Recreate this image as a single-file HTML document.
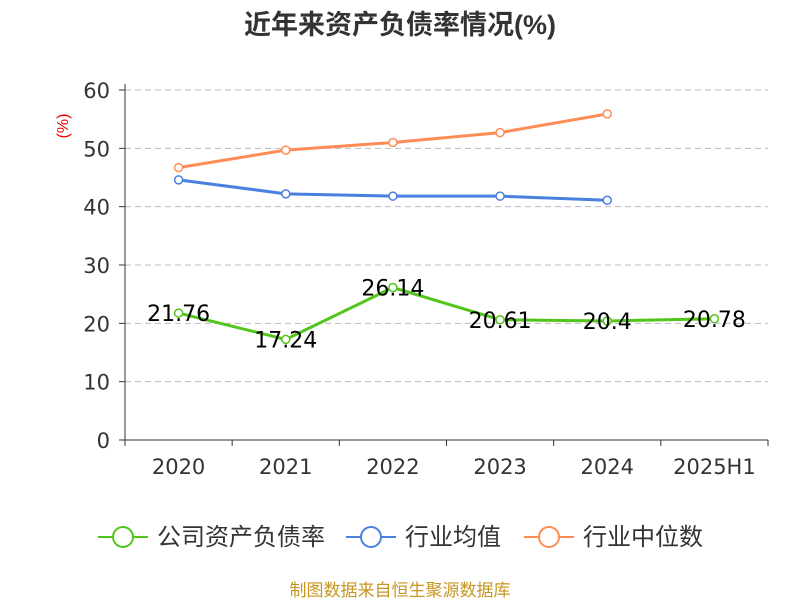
<!DOCTYPE html>
<html><head><meta charset="utf-8"><style>
body{margin:0;background:#fff;width:800px;height:600px;overflow:hidden;font-family:"Liberation Sans","Noto Sans CJK SC",sans-serif}
</style></head><body>
<svg id="c" width="800" height="600" xmlns="http://www.w3.org/2000/svg" font-family="Liberation Sans, Noto Sans CJK SC, sans-serif">
<text x="400" y="34" text-anchor="middle" font-size="27" font-weight="bold" fill="#333">近年来资产负债率情况(%)</text>
<text x="68" y="126" text-anchor="middle" font-size="16" fill="#e00" transform="rotate(-90 68 126)">(%)</text>
<g id="grid"></g><g id="axes"></g><g id="series"></g>
<g>
<g><line x1="98" y1="537" x2="148" y2="537" stroke="#52c41a" stroke-width="2"/><circle cx="123" cy="537" r="10" fill="#fff" stroke="#52c41a" stroke-width="2"/><text x="157" y="545" font-size="24" fill="#333">公司资产负债率</text></g>
<g><line x1="346" y1="537" x2="396" y2="537" stroke="#4a80e0" stroke-width="2"/><circle cx="371" cy="537" r="10" fill="#fff" stroke="#4a80e0" stroke-width="2"/><text x="405" y="545" font-size="24" fill="#333">行业均值</text></g>
<g><line x1="524" y1="537" x2="574" y2="537" stroke="#ff8c55" stroke-width="2"/><circle cx="549" cy="537" r="10" fill="#fff" stroke="#ff8c55" stroke-width="2"/><text x="583" y="545" font-size="24" fill="#333">行业中位数</text></g>
</g>
<text x="400" y="596" text-anchor="middle" font-size="17" fill="#c8961e">制图数据来自恒生聚源数据库</text>
</svg>
<script>
const categories=["2020","2021","2022","2023","2024","2025H1"];
const company=[21.76,17.24,26.14,20.61,20.4,20.78];
const companyLabels=["21.76","17.24","26.14","20.61","20.4","20.78"];
const industryAvg=[44.6,42.2,41.8,41.8,41.1];
const industryMedian=[46.7,49.7,51.0,52.7,55.9];
const yTicks=[0,10,20,30,40,50,60];
const NS="http://www.w3.org/2000/svg";
const NUMFONT="DejaVu Sans, sans-serif";
const x0=125,x1=768,yb=440,yt=90,ymax=60;
const bw=(x1-x0)/categories.length;
const X=i=>x0+bw*(i+0.5);
const Y=v=>yb-(v/ymax)*(yb-yt);
function mk(p,t,a){const e=document.createElementNS(NS,t);for(const k in a)e.setAttribute(k,a[k]);p.appendChild(e);return e;}
const grid=document.getElementById('grid'),axes=document.getElementById('axes'),ser=document.getElementById('series');
yTicks.forEach(v=>{
 if(v>0){const l=mk(grid,'line',{x1:x0,x2:x1,y1:Y(v),y2:Y(v),stroke:'#bbb','stroke-dasharray':'6,4'});
 
 }
 mk(axes,'line',{x1:x0-6,x2:x0,y1:Y(v),y2:Y(v),stroke:'#333'});
 const t=mk(axes,'text',{x:x0-15,y:Y(v)+8,'text-anchor':'end','font-size':21,fill:'#333','font-family':NUMFONT});t.textContent=v;
 
 
});
mk(axes,'line',{x1:x0,x2:x0,y1:yt-6,y2:yb,stroke:'#333'});
mk(axes,'line',{x1:x0,x2:x1,y1:yb,y2:yb,stroke:'#333'});
for(let i=0;i<=categories.length;i++)mk(axes,'line',{x1:x0+bw*i,x2:x0+bw*i,y1:yb,y2:yb+6,stroke:'#333'});
categories.forEach((c,i)=>{const t=mk(axes,'text',{x:X(i),y:474,'text-anchor':'middle','font-size':21,fill:'#333','font-family':NUMFONT});t.textContent=c;
 
 });
function line(vals,color,name){
 const g=mk(ser,'g',{});
 
 
 mk(g,'polyline',{points:vals.map((v,i)=>X(i)+','+Y(v)).join(' '),fill:'none',stroke:color,'stroke-width':3});
 vals.forEach((v,i)=>{const c=mk(g,'circle',{cx:X(i),cy:Y(v),r:4,fill:'#fff',stroke:color,'stroke-width':1.5});
 
 });
 return g;
}
line(industryMedian,'#ff8c55','industry-median-line');
line(industryAvg,'#4a80e0','industry-avg-line');
const cg=line(company,'#52c41a','company-line');
company.forEach((v,i)=>{const t=mk(cg,'text',{x:X(i),y:Y(v)+8,'text-anchor':'middle','font-size':22,fill:'#000','font-family':NUMFONT});t.textContent=companyLabels[i];
 
 });
</script>
</body></html>
